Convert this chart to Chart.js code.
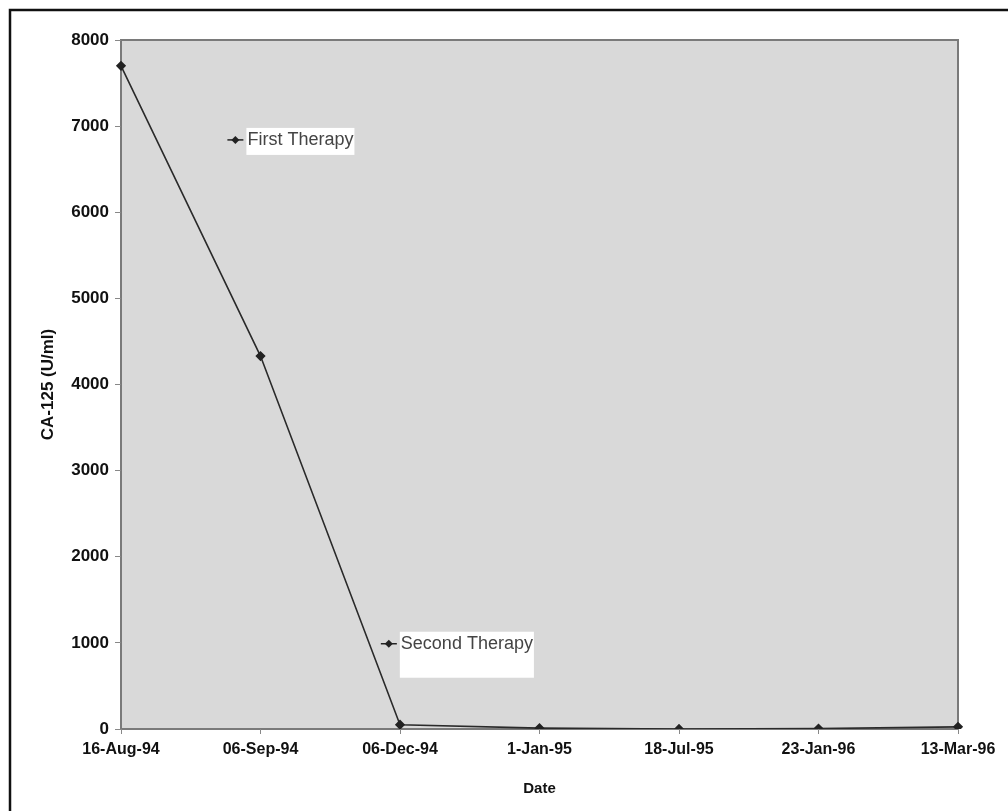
<!DOCTYPE html>
<html>
<head>
<meta charset="utf-8">
<script src="https://cdn.jsdelivr.net/npm/chart.js@4"></script>
<style>
  html, body { margin: 0; padding: 0; background: #fff; }
  #wrap { position: relative; width: 1008px; height: 811px; }
</style>
</head>
<body>
<div id="wrap"><canvas id="chart" width="1008" height="811"></canvas></div>
<script>
const dates = ["16-Aug-94", "06-Sep-94", "06-Dec-94", "1-Jan-95", "18-Jul-95", "23-Jan-96", "13-Mar-96"];
const ca125 = [7700, 4330, 50, 10, 0, 5, 25];
const yTicks = [0, 1000, 2000, 3000, 4000, 5000, 6000, 7000, 8000];
// therapy notes: [label, category position, value]
const notes = [
  ["First Therapy", 0.82, 6840],
  ["Second Therapy", 1.92, 990],
];

const frame = {
  id: "frame",
  beforeDraw(chart) {
    const { ctx, chartArea: a } = chart;
    ctx.save();
    ctx.strokeStyle = "#111";
    ctx.lineWidth = 2.5;
    ctx.strokeRect(10, 10, 1010, 810);
    ctx.fillStyle = "#d9d9d9";
    ctx.fillRect(a.left, a.top, a.right - a.left, a.bottom - a.top);
    ctx.strokeStyle = "#7a7a7a";
    ctx.lineWidth = 2;
    ctx.strokeRect(a.left, a.top, a.right - a.left, a.bottom - a.top);
    ctx.restore();
  },
  afterDatasetsDraw(chart) {
    const { ctx, scales } = chart;
    ctx.save();
    ctx.font = "18px 'Liberation Sans', Arial, sans-serif";
    ctx.textBaseline = "middle";
    notes.forEach(([txt, pos, val], i) => {
      const x = scales.x.getPixelForValue(pos);
      const y = scales.y.getPixelForValue(val);
      const w = ctx.measureText(txt).width;
      ctx.fillStyle = "#fff";
      ctx.fillRect(x + 11, y - 12, w + 2, i === 1 ? 46 : 27);
      ctx.strokeStyle = "#222";
      ctx.lineWidth = 1.5;
      ctx.beginPath();
      ctx.moveTo(x - 8, y);
      ctx.lineTo(x + 8, y);
      ctx.stroke();
      ctx.fillStyle = "#222";
      ctx.beginPath();
      ctx.moveTo(x, y - 4);
      ctx.lineTo(x + 4, y);
      ctx.lineTo(x, y + 4);
      ctx.lineTo(x - 4, y);
      ctx.closePath();
      ctx.fill();
      ctx.fillStyle = "#444";
      ctx.fillText(txt, x + 12, y);
    });
    ctx.restore();
  },
};

new Chart(document.getElementById("chart").getContext("2d"), {
  type: "line",
  data: {
    labels: dates,
    datasets: [{
      label: "CA-125",
      data: ca125,
      borderColor: "#2a2a2a",
      borderWidth: 1.6,
      pointStyle: "rectRot",
      pointRadius: 4,
      pointBackgroundColor: "#222",
      pointBorderColor: "#222",
      tension: 0,
    }],
  },
  options: {
    responsive: false,
    animation: false,
    layout: { padding: { top: 40, right: 50, left: 34, bottom: 9 } },
    plugins: {
      legend: { display: false },
      tooltip: { enabled: false },
    },
    scales: {
      x: {
        offset: false,
        grid: { display: true, drawOnChartArea: false, tickLength: 5, color: "#888" },
        border: { display: false },
        ticks: {
          color: "#111",
          font: { family: "'Liberation Sans', Arial, sans-serif", size: 16, weight: "bold" },
          maxRotation: 0,
          padding: 6,
        },
        title: {
          display: true,
          text: "Date",
          color: "#111",
          font: { family: "'Liberation Sans', Arial, sans-serif", size: 15, weight: "bold" },
          padding: { top: 5 },
        },
        afterFit: (s) => { s.height = 73; },
      },
      y: {
        min: 0,
        max: 8000,
        afterBuildTicks: (s) => { s.ticks = yTicks.map((v) => ({ value: v })); },
        grid: { display: true, drawOnChartArea: false, tickLength: 6, color: "#888" },
        border: { display: false },
        ticks: {
          color: "#111",
          font: { family: "'Liberation Sans', Arial, sans-serif", size: 17, weight: "bold" },
          padding: 6,
          callback: (v) => String(v),
        },
        title: {
          display: true,
          text: "CA-125 (U/ml)",
          color: "#111",
          font: { family: "'Liberation Sans', Arial, sans-serif", size: 17, weight: "bold" },
          padding: { bottom: 0 },
        },
        afterFit: (s) => { s.width = 87; },
      },
    },
  },
  plugins: [frame],
});
</script>
</body>
</html>
